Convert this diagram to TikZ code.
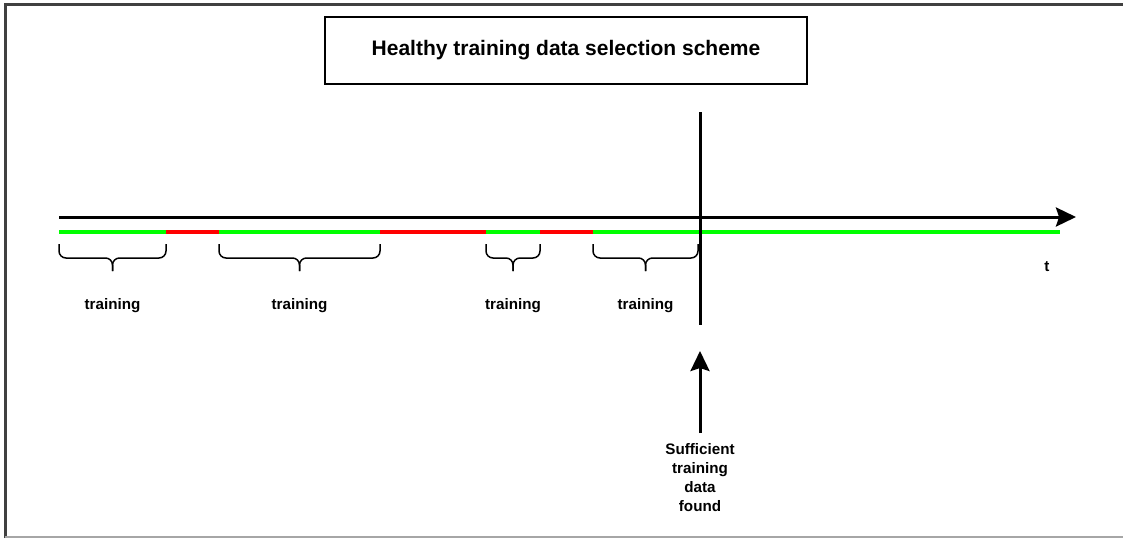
\documentclass[tikz,border=0pt]{standalone}
\usepackage{fontspec}
\setmainfont{Liberation Sans}
\usetikzlibrary{arrows.meta, positioning}

\begin{document}
\begin{tikzpicture}[
    x=1pt, y=-1pt,
    titlebox/.style={draw, line width=1.8pt, minimum width=482pt, minimum height=67pt, font=\fontsize{21}{25}\selectfont\bfseries},
    label/.style={font=\fontsize{15.2}{19}\selectfont\bfseries, align=center, inner sep=0pt},
    axis/.style={line width=3pt, -{Stealth[length=20pt, width=19pt, inset=3pt]}},
    seg/.style={line width=3.2pt},
    curly/.style={line width=1.5pt, rounded corners=7pt},
    marker/.style={line width=3pt}
]
\useasboundingbox (0,0) rectangle (1123,538);

% frame
\draw[line width=3pt, black!75] (5,538) -- (5,4) -- (1123,4);
\draw[line width=1.5pt, black!35] (5,537) -- (1123,537);

\node[titlebox] (title) at (566,50.5) {Healthy training data selection scheme};

% time axis
\coordinate (start) at (59,217);
\coordinate (stop) at (1076,217);
\draw[axis] (start) -- (stop);
\node[label] (t) at (1047,267) {t};

% healthy / unhealthy periods
\foreach \a/\b/\c in {59/166/green, 166/219/red, 219/380/green, 380/486/red,
                      486/540/green, 540/593/red, 593/1060/green}
    \draw[seg, \c] (\a,232) -- (\b,232);

% training windows
\foreach \a/\b/\n in {59/166/1, 219/380/2, 486/540/3, 593/698/4} {
    \coordinate (mid\n) at ({(\a+\b)/2},258);
    \draw[curly] (\a,244) -- (\a,258) -- (mid\n) -- ++(0,13);
    \draw[curly] (\b,244) -- (\b,258) -- (mid\n) -- ++(0,13);
    \node[label] (train\n) at ({(\a+\b)/2},306) {training};
}

% point where enough data is collected
\coordinate (top) at (700,112);
\coordinate (bottom) at (700,325);
\draw[marker] (top) -- (bottom);

\node[label, anchor=north] (found) at (700,443) {Sufficient\\training\\data\\found};
\coordinate (hit) at (700,351);
\draw[marker, -{Stealth[length=20pt, width=19pt, inset=3pt]}] (found.north) ++(0,-10) -- (hit);

\end{tikzpicture}
\end{document}
